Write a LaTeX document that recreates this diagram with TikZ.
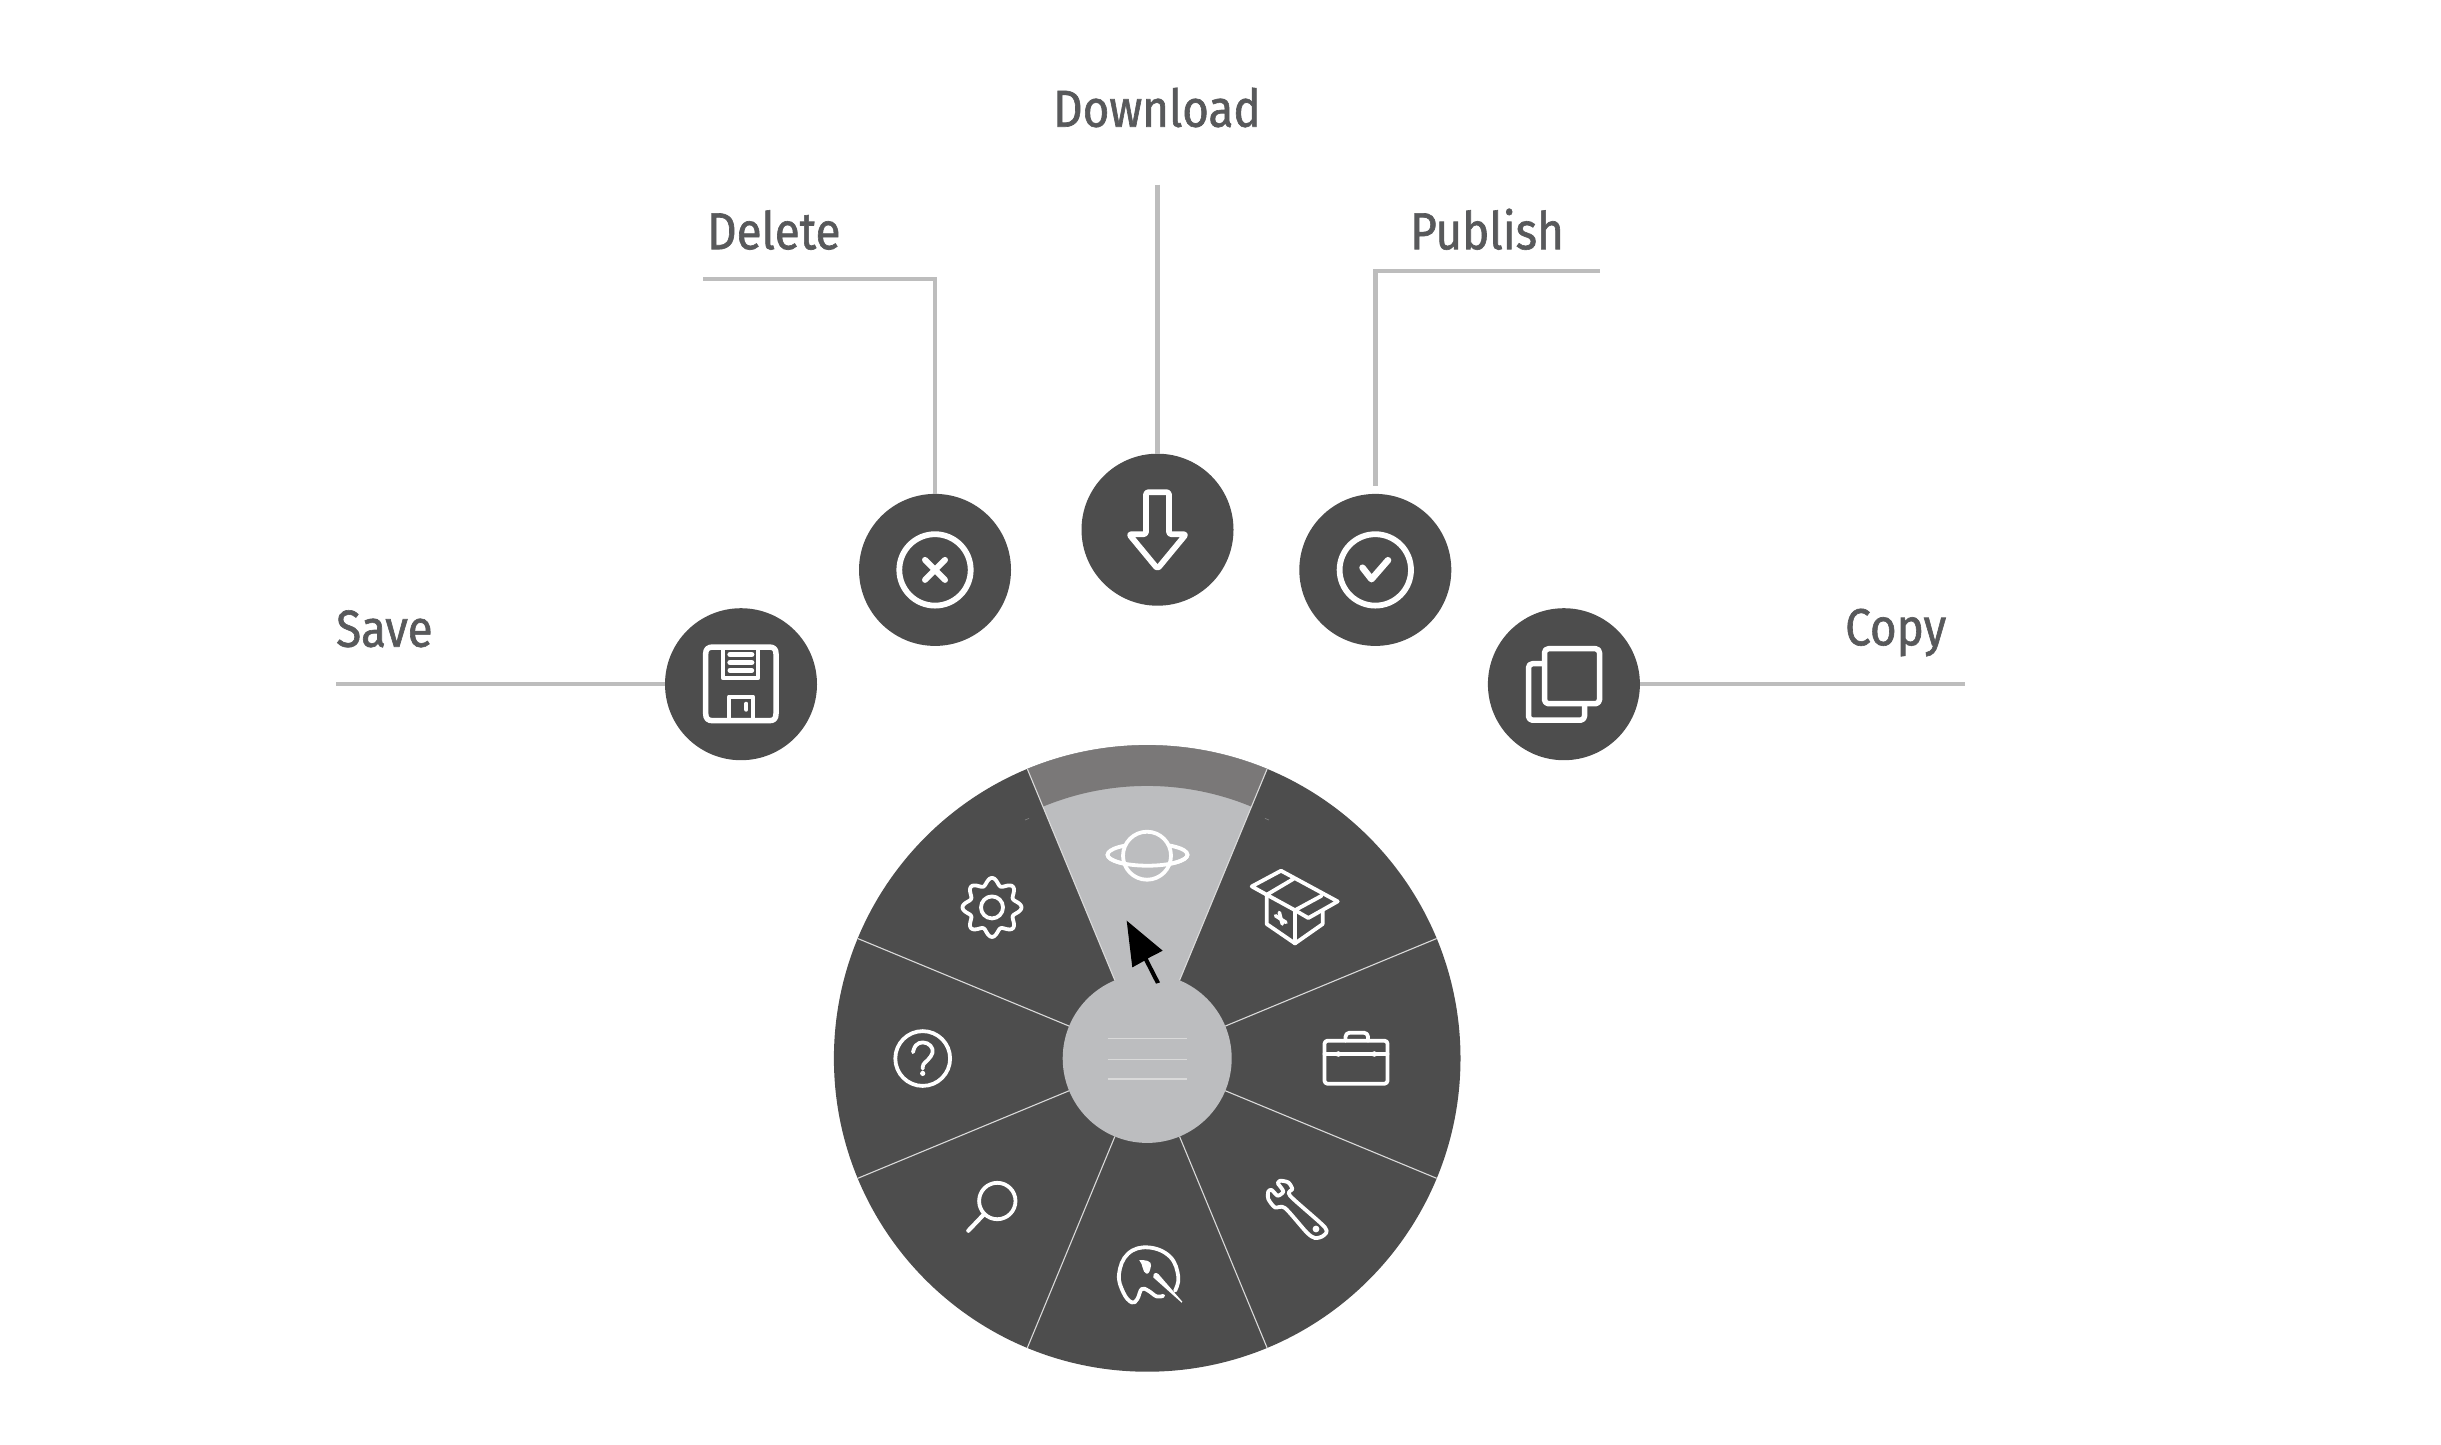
\documentclass[tikz,border=0pt]{standalone}
\usetikzlibrary{calc}
\usepackage{fontspec}
\setmainfont{Fira Sans}[FakeStretch=0.88,FakeBold=1.2]
\definecolor{darkg}{HTML}{4D4D4D}
\definecolor{lightg}{HTML}{BCBDBF}
\definecolor{ringg}{HTML}{7A7878}
\definecolor{lineg}{HTML}{BDBDBD}
\definecolor{textg}{HTML}{58595B}
\definecolor{divg}{HTML}{DADADA}
\tikzset{
  actionbtn/.style={circle,fill=darkg,inner sep=0pt,minimum size=152pt},
  lbl/.style={inner sep=0pt,anchor=base west,text=textg,font=\fontsize{52}{52}\selectfont},
  leader/.style={draw=lineg,line width=4.4pt},
  divider/.style={draw=divg,line width=1.1pt},
  bigicon/.style={draw=white,line width=5.5pt,line join=round,line cap=round},
  smallicon/.style={draw=white,line width=3.8pt,line join=round,line cap=round},
}
\begin{document}
\begin{tikzpicture}[x=1pt,y=-1pt]
\useasboundingbox (0,0) rectangle (2441,1444);
\begin{scope}[shift={(0,0.7)}]
% wheel
\node[circle,fill=darkg,inner sep=0pt,minimum size=626.6pt] (wheel) at (1147.2,1057.7) {};
\node[circle,fill=lightg,inner sep=0pt,minimum size=169pt] (hub) at (1147.2,1057.7) {};
\fill[lightg] (hub.center) -- ($(wheel.center)+(-112.5:313.3)$) arc[start angle=-112.5,end angle=-67.5,radius=313.3] -- cycle;
\fill[ringg] ($(wheel.center)+(-112.5:313.3)$) arc[start angle=-112.5,end angle=-67.5,radius=313.3]
  -- ($(wheel.center)+(-67.5:272.5)$) arc[start angle=-67.5,end angle=-112.5,radius=272.5] -- cycle;
\foreach \a in {22.5,67.5,...,337.5}{\draw[divider] ($(hub.center)+(\a:84.5)$) -- ($(wheel.center)+(\a:313.3)$);}
% hub lines
\coordinate (hl1a) at (1107.5,1037.8); \coordinate (hl1b) at (1187,1037.8);
\coordinate (hl2a) at (1107.5,1058.6); \coordinate (hl2b) at (1187,1058.6);
\coordinate (hl3a) at (1107.5,1078.3);   \coordinate (hl3b) at (1187,1078.3);
\draw[draw=divg,line width=1.2pt] (hl1a) -- (hl1b);
\draw[draw=divg,line width=1.2pt] (hl2a) -- (hl2b);
\draw[draw=divg,line width=1.6pt] (hl3a) -- (hl3b);
% tiny ticks
\draw[draw=gray,line width=.7pt] (1025,819.3) -- (1029,817.7);
\draw[draw=gray,line width=.7pt] (1265,817.7) -- (1269,819.3);
% action buttons
\node[actionbtn] (save) at (741,683.5) {};
\node[actionbtn] (delete) at (935,569.2) {};
\node[actionbtn] (download) at (1157.5,529) {};
\node[actionbtn] (publish) at (1375.3,569.2) {};
\node[actionbtn] (copy) at (1563.9,683.5) {};
% labels
\node[lbl] (tsave) at (336,646) {Save};
\node[lbl] (tdelete) at (707,248.5) {Delete};
\node[lbl] (tdownload) at (1053,126) {Download};
\node[lbl] (tpublish) at (1410,248.5) {Publish};
\node[lbl] (tcopy) at (1845,644.5) {Copy};
% leaders
\coordinate (saveend) at (336,683.5);
\coordinate (delend) at (703,278);
\coordinate (dlend) at (1157.5,184);
\coordinate (pubend) at (1600,270);
\coordinate (pubstop) at (1375.3,485);
\coordinate (copyend) at (1965,683.5);
\draw[leader] (saveend) -- (save);
\draw[leader] (delend) -| (delete);
\draw[leader] (dlend) -- (download);
\draw[leader] (pubend) -| (pubstop);
\draw[leader] (copy) -- (copyend);
% --- save icon
\draw[bigicon] (729,720) -- (713,720) .. controls (708,720) and (705.7,718) .. (705.7,713) -- (705.7,653) .. controls (705.7,648.5) and (708,646.3) .. (713,646.3) -- (769,646.3) .. controls (774,646.3) and (776,648.5) .. (776,653) -- (776,713) .. controls (776,718) and (774,720) .. (769,720) -- cycle;
\draw[bigicon,line width=4.4pt,line cap=butt] (723,646.3) -- (723,677.3) -- (758,677.3) -- (758,646.3);
\draw[draw=white,line width=5.3pt,line cap=round] (730,653.8) -- (751.7,653.8);
\draw[draw=white,line width=5.3pt,line cap=round] (730,661.8) -- (751.7,661.8);
\draw[draw=white,line width=5pt,line cap=round] (730,669.7) -- (751.7,669.7);
\draw[bigicon,line width=4.4pt,line cap=butt] (729,720) -- (729,696) -- (753,696) -- (753,720);
\draw[draw=white,line width=4pt,line cap=round] (746.3,703) -- (746.3,709);
% --- delete icon
\draw[bigicon,line width=5.8pt] (delete.center) circle[radius=35.7];
\draw[bigicon,line width=6pt] (925,559.2) -- (945,579.2);
\draw[bigicon,line width=6pt] (945,559.2) -- (925,579.2);
% --- download icon
\draw[bigicon,line width=5.8pt,rounded corners=2.5pt] (1146,491.5) -- (1169,491.5) -- (1169,533.5) -- (1186,533.5) -- (1157.5,568) -- (1129,533.5) -- (1146,533.5) -- cycle;
% --- publish icon
\draw[bigicon,line width=5.8pt] (publish.center) circle[radius=35.7];
\draw[bigicon,line width=6.5pt] (1362.5,567) -- (1371.5,578.5) -- (1388,559.5);
% --- copy icon
\draw[bigicon,rounded corners=4pt] (1544.5,648) rectangle (1599.5,703);
\draw[bigicon,rounded corners=4pt,line cap=butt] (1544.5,663) -- (1528.5,663) -- (1528.5,719.5) -- (1584.5,719.5) -- (1584.5,703);
% --- planet
\draw[smallicon] (1147.5,854) ellipse[x radius=40,y radius=11];
\fill[lightg] (1147,855) circle[radius=24];
\draw[smallicon] (1147,855) circle[radius=24];
\begin{scope}
\clip (1100,854) rectangle (1195,870);
\draw[smallicon] (1147.5,854) ellipse[x radius=40,y radius=11];
\end{scope}
% --- gear
\draw[smallicon] plot[domain=0:360,samples=145] ({992+(26+3.5*cos(8*\x))*cos(\x)},{906.7+(26+3.5*cos(8*\x))*sin(\x)}) -- cycle;
\draw[smallicon] (992,906.7) circle[radius=11];
% --- box
\draw[smallicon] (1266.7,894) -- (1251.7,885.7) -- (1281,870) -- (1337.7,900.7) -- (1308.3,917.3) -- (1295,909.5) -- (1266.7,894) -- (1293.3,878.3);
\draw[smallicon] (1295,909.5) -- (1321.7,895);
\draw[smallicon] (1266.7,894) -- (1266.7,923.3) -- (1295,942.7) -- (1322.7,923.3) -- (1322.7,910);
\draw[smallicon] (1295,909.5) -- (1295,942.7);
\draw[smallicon,line width=3.6pt] (1275.5,915) -- (1286,921.7);
\draw[smallicon,line width=3.6pt] (1279.3,911.7) -- (1282.3,923.3);
% --- briefcase
\draw[smallicon,rounded corners=3pt] (1324.5,1040) rectangle (1387.5,1083);
\draw[smallicon] (1324.5,1053.3) -- (1387.5,1053.3);
\fill[white] (1338.3,1053.3) circle[radius=2.8];
\fill[white] (1374.3,1053.3) circle[radius=2.8];
\draw[smallicon,rounded corners=4pt] (1345.5,1040) -- (1345.5,1032) -- (1368,1032) -- (1368,1040);
% --- wrench
\draw[smallicon] plot[smooth,tension=.45] coordinates {(1277.7,1182.7) (1280,1180) (1288.3,1181.7) (1292.3,1188.3) (1290,1195) (1325,1226.7) (1323.3,1235) (1315,1237.3) (1306.7,1231.7) (1285,1207.3) (1275,1206.7) (1268.3,1198.3) (1268.3,1190.7) (1271.7,1189.3) (1277.7,1195) (1283.3,1190.7) (1277.7,1182.7)};
\fill[white] (1316,1228.3) circle[radius=3.4];
% --- palette
\draw[smallicon] plot[smooth,tension=.7] coordinates {(1175,1290) (1178.3,1276) (1170,1256) (1148.3,1246.7) (1128,1253) (1119,1273.3) (1123.3,1291.7) (1131.7,1301.7) (1137.3,1298.3) (1141.7,1288.3) (1148.3,1290) (1156.7,1295.7) (1163.3,1295)};
\fill[white] (1153.3,1276.7) .. controls (1153,1272) and (1156,1271) .. (1158.5,1273.5) -- (1182.3,1301) -- (1181.7,1302) -- cycle;
\fill[white] (1139.3,1259.5) .. controls (1145,1259) and (1152,1260) .. (1151,1265) .. controls (1150,1270) and (1149,1273.5) .. (1146.5,1273) .. controls (1142,1271.5) and (1143.5,1264) .. cycle;
% --- magnifier
\draw[smallicon] (997.3,1200.3) circle[radius=18.2];
\draw[smallicon,line width=4.2pt] (983.3,1214.3) -- (968.3,1230);
% --- question
\draw[smallicon] (922.7,1057.8) circle[radius=27.4];
\draw[smallicon] plot[smooth,tension=.7] coordinates {(913,1051.5) (916,1044.5) (923,1041.7) (930.5,1045) (932.5,1052) (928,1059) (923.5,1063.5) (922.7,1068)};
\fill[white] (922.7,1072.7) circle[radius=2.6];
% --- cursor
\fill[black] (1126.7,920) -- (1162.7,950) -- (1147.7,957.7) -- (1160,981.7) -- (1156,983) -- (1144.3,960) -- (1132.3,966.7) -- cycle;
\end{scope}
\end{tikzpicture}
\end{document}
